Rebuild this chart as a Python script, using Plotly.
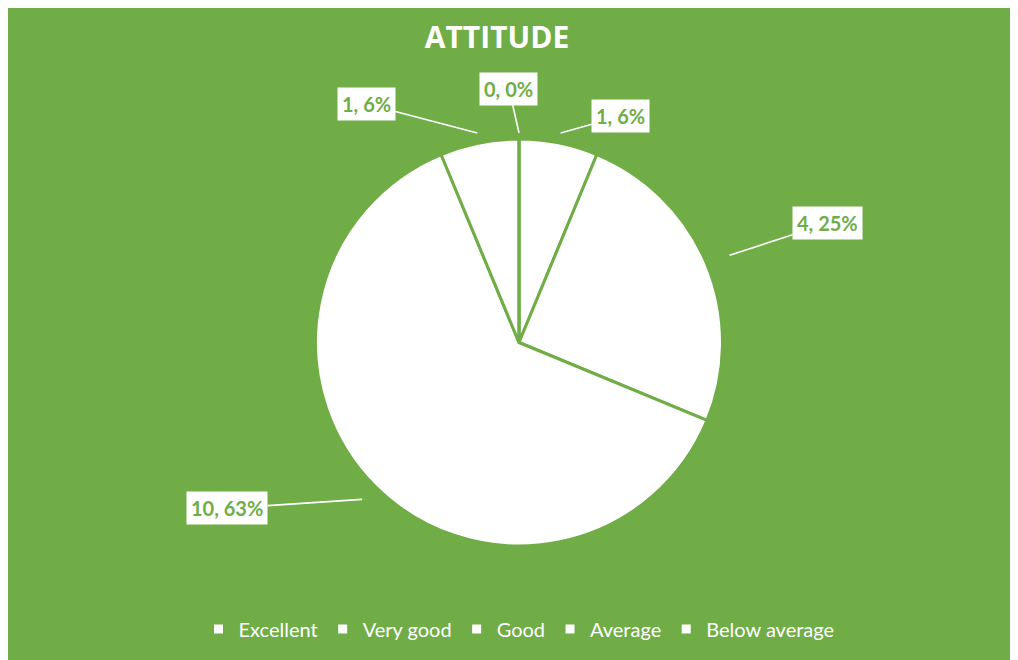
import math
import plotly.graph_objects as go

GREEN = "#70AD47"
WHITE = "#FFFFFF"

categories = ["Excellent", "Very good", "Good", "Average", "Below average"]
counts = [1, 4, 10, 1, 0]

# label placement (style only): tip radius factor and pixel offset of the label box
TIP_R = [1.05, 1.12, 1.09, 1.05, 1.03]
LABEL_OFF = [(60, -17), (98, -32), (-135, 9), (-111, -29), (-10, -44)]

W, H = 1018, 660
M = dict(l=4, r=0, t=131, b=122)
PW = W - M["l"] - M["r"]
PH = H - M["t"] - M["b"]
R = min(PW, PH) / 2

total = sum(counts)
fig = go.Figure(go.Pie(
    labels=categories, values=counts,
    sort=False, direction="clockwise", rotation=0,
    textinfo="none", hoverinfo="label+value+percent",
    marker=dict(colors=[WHITE] * len(counts), line=dict(color=GREEN, width=3)),
    showlegend=True,
))

# data labels with white boxes, placed along each slice's mid-angle
start = 0.0
for i, v in enumerate(counts):
    share = v / total
    mid = (start + share / 2) * 2 * math.pi
    start += share
    r = R * TIP_R[i]
    tx = 0.5 + r * math.sin(mid) / PW
    ty = 0.5 + r * math.cos(mid) / PH
    ax, ay = LABEL_OFF[i]
    pct = math.floor(share * 100 + 0.5)
    fig.add_annotation(
        x=tx, y=ty, xref="paper", yref="paper",
        text=f"<b>{v}, {pct}%</b>",
        showarrow=True, arrowhead=0, arrowwidth=1.6, arrowcolor=WHITE,
        ax=ax, ay=ay, bgcolor=WHITE, borderpad=4,
        font=dict(family="Lato, sans-serif", size=20, color=GREEN),
    )

fig.update_layout(
    width=W, height=H,
    paper_bgcolor=GREEN, plot_bgcolor=GREEN,
    margin=M,
    title=dict(text="<b>ATTITUDE</b>", x=489 / W, y=1 - 29 / H,
               xanchor="center", yanchor="middle",
               font=dict(family="Open Sans, sans-serif", size=30, color=WHITE)),
    legend=dict(orientation="h", x=0.5, xanchor="center",
                y=(H - M["b"] - 621) / PH, yanchor="middle",
                font=dict(family="Lato, sans-serif", size=20, color=WHITE),
                bgcolor="rgba(0,0,0,0)", itemwidth=30),
    font=dict(family="Lato, sans-serif"),
)

fig.write_html("out.html")
